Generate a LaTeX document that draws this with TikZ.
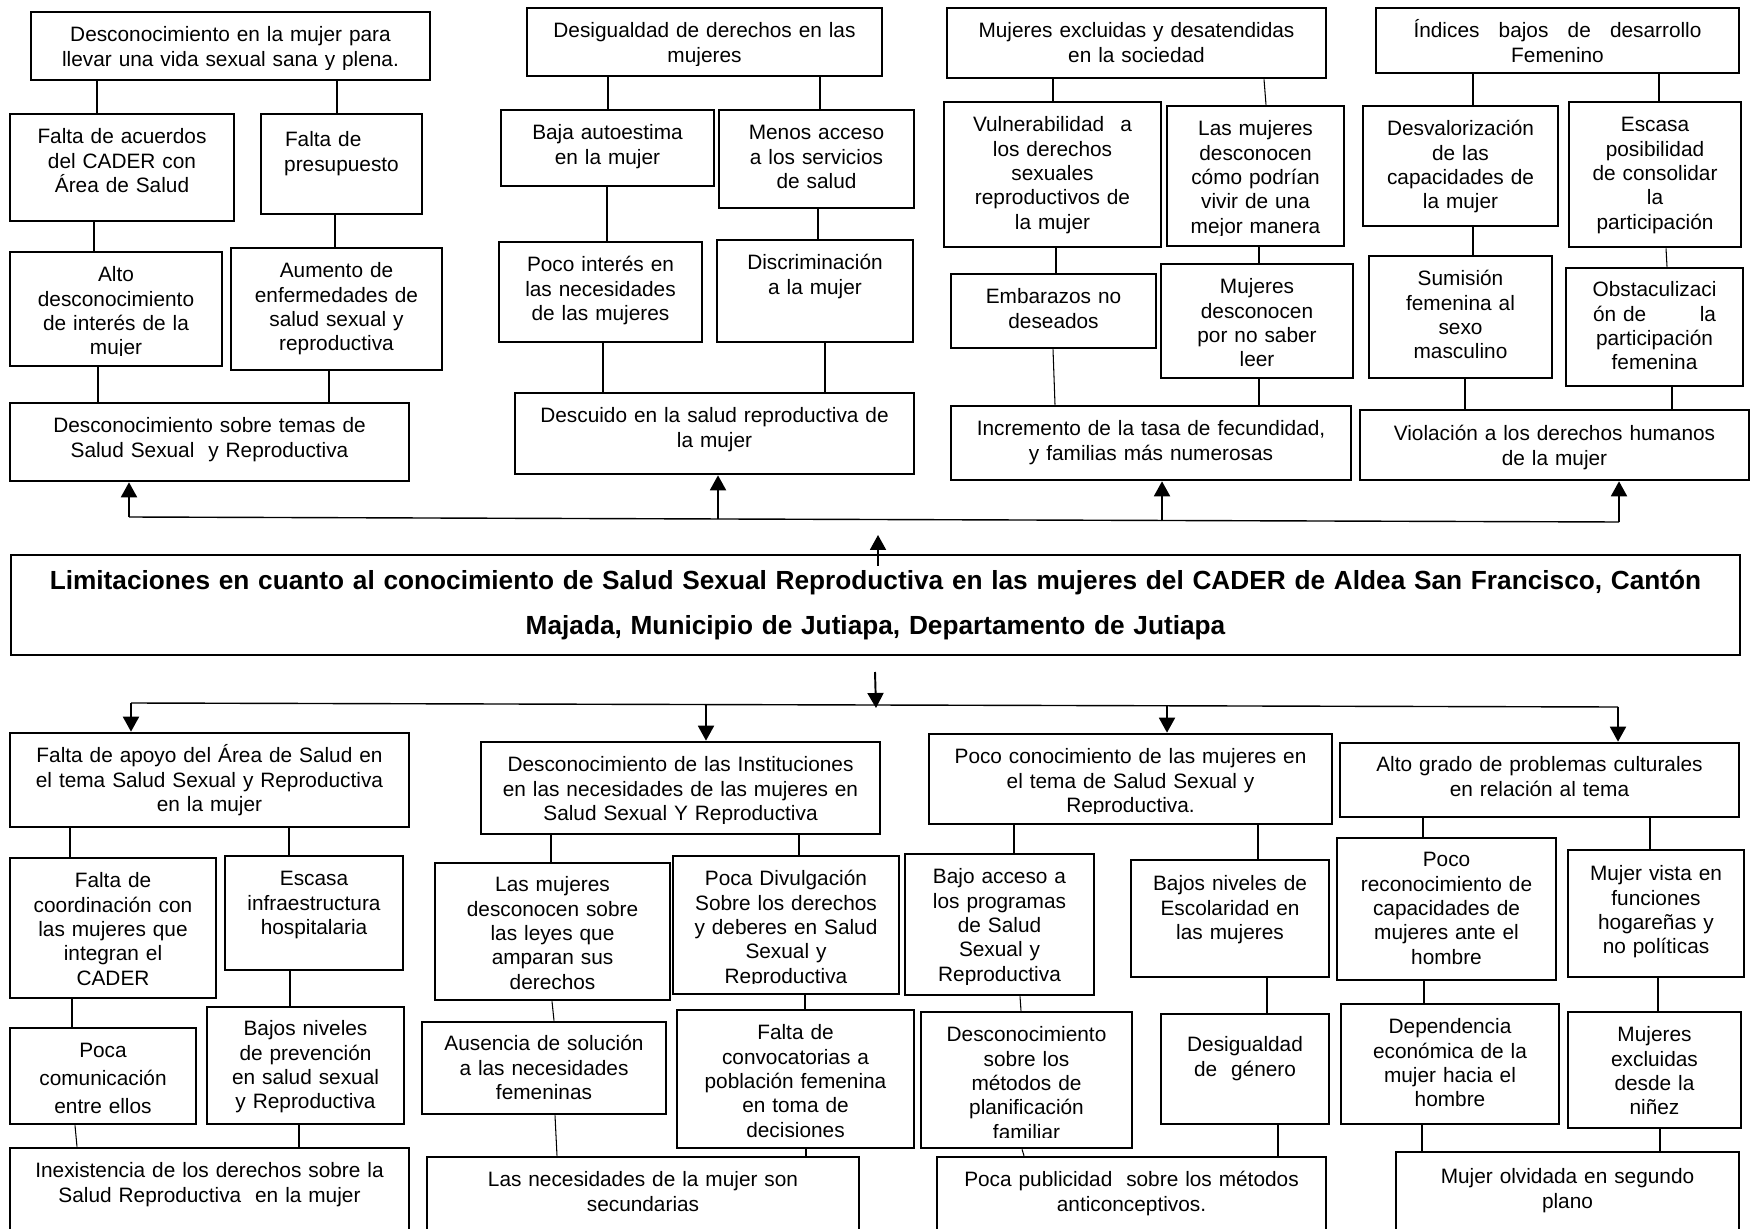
\documentclass[tikz,border=0pt]{standalone}
\usepackage{fontspec}
\setmainfont{Liberation Sans}
\usetikzlibrary{arrows.meta, fit, calc}

% caja con texto: [desplazamiento de la linea base]{nombre}{x1}{y1}{x2}{y2}{texto}
\newcommand{\caja}[7][31]{%
  \node[caja, fit={(#3,#4) (#5,#6)}] (#2) {};
  \pgfmathsetmacro\anchocaja{(#5-#3-8)*0.02}
  \begin{scope}
    \clip ([yshift=0.24cm]#2.south west) rectangle (#2.north east);
    \node[texto, text width=\anchocaja cm, anchor=base] (#2-t)
      at ($(#2.north)+(0,#1)$) {#7};
  \end{scope}}

\begin{document}
\begin{tikzpicture}[x=0.02cm, y=-0.02cm,
    caja/.style={draw, line width=1.5pt, inner sep=0pt},
    texto/.style={font=\fontsize{11.85pt}{13.9pt}\selectfont, align=center, inner sep=0pt},
    titulo/.style={font=\fontsize{14.93pt}{25.6pt}\selectfont\bfseries, align=center, inner sep=0pt},
    linea/.style={line width=0.6pt},
    bus/.style={line width=0.8pt},
    flecha/.style={line width=1.1pt, -{Triangle[length=0.3cm, width=0.32cm]}}]
  \fill[white] (0,0) rectangle (1750,1229);
  \useasboundingbox (0,0) rectangle (1750,1229);

  % efectos
  \caja{e1a}{31}{12}{430}{80}{Desconocimiento en la mujer para\\llevar una vida sexual sana y plena.}
  \caja{e1b}{10}{114}{234}{221}{Falta de acuerdos\\del CADER con\\Área de Salud}
  \caja[34]{e1c}{261}{114}{422}{214}{\makebox[2.26cm][l]{Falta de}\\presupuesto}
  \caja{e1d}{10}{252}{222}{366}{Alto\\desconocimiento\\de interés de la\\mujer}
  \caja{e1e}{231}{248}{442}{370}{Aumento de\\enfermedades de\\salud sexual y\\reproductiva}
  \caja{e1f}{10}{403}{409}{481}{Desconocimiento sobre temas de\\Salud Sexual\ \ y Reproductiva}

  \caja{e2a}{527}{8}{882}{76}{Desigualdad de derechos en las\\mujeres}
  \caja{e2b}{501}{110}{714}{186}{Baja autoestima\\en la mujer}
  \caja{e2c}{719}{110}{914}{208}{Menos acceso\\a los servicios\\de salud}
  \caja{e2d}{499}{242}{702}{342}{Poco interés en\\las necesidades\\de las mujeres}
  \caja{e2e}{717}{240}{913}{342}{Discriminación\\a la mujer}
  \caja{e2f}{515}{393}{914}{474}{Descuido en la salud reproductiva de\\la mujer}

  \caja{e3a}{947}{8}{1326}{78}{Mujeres excluidas y desatendidas\\en la sociedad}
  \caja{e3b}{944}{102}{1161}{247}{\makebox[3.18cm][s]{Vulnerabilidad\hfill a}\\los derechos\\sexuales\\reproductivos de\\la mujer}
  \caja{e3c}{1167}{106}{1344}{246}{Las mujeres\\desconocen\\cómo podrían\\vivir de una\\mejor manera}
  \caja{e3d}{951}{274}{1156}{348}{Embarazos no\\deseados}
  \caja{e3e}{1161}{264}{1353}{378}{Mujeres\\desconocen\\por no saber\\leer}
  \caja{e3f}{951}{406}{1351}{480}{Incremento de la tasa de fecundidad,\\y familias más numerosas}

  \caja{e4a}{1376}{8}{1739}{73}{\makebox[5.76cm][s]{Índices\hfill bajos\hfill de\hfill desarrollo}\\Femenino}
  \caja{e4b}{1363}{106}{1558}{226}{Desvalorización\\de las\\capacidades de\\la mujer}
  \caja{e4c}{1569}{102}{1741}{247}{Escasa\\posibilidad\\de consolidar\\la\\participación}
  \caja{e4d}{1369}{256}{1552}{378}{Sumisión\\femenina al\\sexo\\masculino}
  \caja[30]{e4e}{1566}{268}{1743}{386}{Obstaculizaci\\\makebox[2.46cm][s]{ón de\hfill la}\\participación\\femenina}
  \caja[32]{e4f}{1360}{410}{1749}{480}{Violación a los derechos humanos\\de la mujer}

  % problema central
  \node[caja, fit={(11,555) (1740,655)}] (problema) {};
  \node[titulo, text width=34cm, anchor=base] (problema-t) at ($(problema.north)+(0,36)$)
    {Limitaciones en cuanto al conocimiento de Salud Sexual Reproductiva en las mujeres del CADER de Aldea San Francisco, Cantón\\Majada, Municipio de Jutiapa, Departamento de Jutiapa};

  % causas
  \caja{c1a}{10}{733}{409}{827}{Falta de apoyo del Área de Salud en\\el tema Salud Sexual y Reproductiva\\en la mujer}
  \caja{c1b}{10}{858}{216}{998}{Falta de\\coordinación con\\las mujeres que\\integran el\\CADER}
  \caja{c1c}{225}{856}{403}{970}{Escasa\\infraestructura\\hospitalaria}
  \caja{c1d}{10}{1028}{196}{1124}{Poca\\[2pt]comunicación\\[2pt]entre ellos}
  \caja[30]{c1e}{207}{1007}{404}{1124}{Bajos niveles\\de prevención\\en salud sexual\\y Reproductiva}
  \caja{c1f}{10}{1148}{409}{1240}{Inexistencia de los derechos sobre la\\Salud Reproductiva\ \ en la mujer}

  \caja{c2a}{481}{742}{880}{834}{Desconocimiento de las Instituciones\\en las necesidades de las mujeres en\\Salud Sexual Y Reproductiva}
  \caja[30]{c2b}{435}{863}{670}{1000}{Las mujeres\\desconocen sobre\\las leyes que\\amparan sus\\derechos}
  \caja{c2c}{673}{856}{899}{994}{Poca Divulgación\\Sobre los derechos\\y deberes en Salud\\Sexual y\\Reproductiva}
  \caja[30]{c2d}{422}{1022}{666}{1114}{Ausencia de solución\\a las necesidades\\femeninas}
  \caja{c2e}{677}{1010}{914}{1148}{Falta de\\convocatorias a\\población femenina\\en toma de\\decisiones}
  \caja{c2f}{427}{1157}{859}{1240}{Las necesidades de la mujer son\\secundarias}

  \caja{c3a}{929}{734}{1332}{824}{Poco conocimiento de las mujeres en\\el tema de Salud Sexual y\\Reproductiva.}
  \caja{c3b}{905}{854}{1094}{995}{Bajo acceso a\\los programas\\de Salud\\Sexual y\\Reproductiva}
  \caja[32]{c3c}{1131}{860}{1329}{977}{Bajos niveles de\\Escolaridad en\\las mujeres}
  \caja{c3d}{921}{1012}{1132}{1148}{Desconocimiento\\sobre los\\métodos de\\planificación\\familiar}
  \caja[39]{c3e}{1161}{1014}{1329}{1124}{Desigualdad\\de\ \ género}
  \caja{c3f}{937}{1157}{1326}{1240}{Poca publicidad\ \ sobre los métodos\\anticonceptivos.}

  \caja[30]{c4a}{1340}{743}{1739}{817}{Alto grado de problemas culturales\\en relación al tema}
  \caja[30]{c4b}{1337}{838}{1556}{980}{Poco\\reconocimiento de\\capacidades de\\mujeres ante el\\hombre}
  \caja[32]{c4c}{1568}{850}{1744}{977}{Mujer vista en\\funciones\\hogareñas y\\no políticas}
  \caja{c4d}{1341}{1004}{1559}{1124}{Dependencia\\económica de la\\mujer hacia el\\hombre}
  \caja{c4e}{1568}{1012}{1741}{1128}{Mujeres\\excluidas\\desde la\\niñez}
  \caja[33]{c4f}{1396}{1152}{1739}{1240}{Mujer olvidada en segundo\\plano}

  % conectores entre cajas
  \draw[linea] (e1a.south -| 97,0) -- (e1b.north -| 97,0);
  \draw[linea] (e1a.south -| 337,0) -- (e1c.north -| 337,0);
  \draw[linea] (e1b.south -| 94,0) -- (e1d.north -| 94,0);
  \draw[linea] (e1c.south -| 335,0) -- (e1e.north -| 335,0);
  \draw[linea] (e1d.south -| 98,0) -- (e1f.north -| 98,0);
  \draw[linea] (e1e.south -| 329,0) -- (e1f.north -| 329,0);

  \draw[linea] (e2a.south -| 608,0) -- (e2b.north -| 608,0);
  \draw[linea] (e2a.south -| 820,0) -- (e2c.north -| 820,0);
  \draw[linea] (e2b.south -| 607,0) -- (e2d.north -| 607,0);
  \draw[linea] (e2c.south -| 818,0) -- (e2e.north -| 818,0);
  \draw[linea] (e2d.south -| 603,0) -- (e2f.north -| 603,0);
  \draw[linea] (e2e.south -| 825,0) -- (e2f.north -| 825,0);

  \draw[linea] (e3a.south -| 1053,0) -- (e3b.north -| 1053,0);
  \draw[linea] (e3a.south -| 1264,0) -- (e3c.north -| 1266,0);
  \draw[linea] (e3b.south -| 1056,0) -- (e3d.north -| 1056,0);
  \draw[linea] (e3c.south -| 1259,0) -- (e3e.north -| 1259,0);
  \draw[linea] (e3d.south -| 1053,0) -- (e3f.north -| 1055,0);
  \draw[linea] (e3e.south -| 1259,0) -- (e3f.north -| 1259,0);

  \draw[linea] (e4a.south -| 1473,0) -- (e4b.north -| 1473,0);
  \draw[linea] (e4a.south -| 1659,0) -- (e4c.north -| 1659,0);
  \draw[linea] (e4b.south -| 1473,0) -- (e4d.north -| 1473,0);
  \draw[linea] (e4c.south -| 1666,0) -- (e4e.north -| 1667,0);
  \draw[linea] (e4d.south -| 1465,0) -- (e4f.north -| 1465,0);
  \draw[linea] (e4e.south -| 1672,0) -- (e4f.north -| 1672,0);

  \draw[linea] (c1a.south -| 70,0) -- (c1b.north -| 70,0);
  \draw[linea] (c1a.south -| 289,0) -- (c1c.north -| 289,0);
  \draw[linea] (c1b.south -| 72,0) -- (c1d.north -| 72,0);
  \draw[linea] (c1c.south -| 290,0) -- (c1e.north -| 290,0);
  \draw[linea] (c1d.south -| 75,0) -- (c1f.north -| 77,0);
  \draw[linea] (c1e.south -| 299,0) -- (c1f.north -| 299,0);

  \draw[linea] (c2a.south -| 551,0) -- (c2b.north -| 551,0);
  \draw[linea] (c2a.south -| 799,0) -- (c2c.north -| 799,0);
  \draw[linea] (c2b.south -| 552,0) -- (c2d.north -| 554,0);
  \draw[linea] (c2c.south -| 805,0) -- (c2e.north -| 805,0);
  \draw[linea] (c2d.south -| 555,0) -- (c2f.north -| 557,0);
  \draw[linea] (c2e.south -| 806,0) -- (c2f.north -| 806,0);

  \draw[linea] (c3a.south -| 1014,0) -- (c3b.north -| 1014,0);
  \draw[linea] (c3a.south -| 1258,0) -- (c3c.north -| 1258,0);
  \draw[linea] (c3b.south -| 1020,0) -- (c3d.north -| 1021,0);
  \draw[linea] (c3c.south -| 1267,0) -- (c3e.north -| 1267,0);
  \draw[linea] (c3d.south -| 1022,0) -- (c3f.north -| 1024,0);
  \draw[linea] (c3e.south -| 1278,0) -- (c3f.north -| 1278,0);

  \draw[linea] (c4a.south -| 1423,0) -- (c4b.north -| 1423,0);
  \draw[linea] (c4a.south -| 1650,0) -- (c4c.north -| 1650,0);
  \draw[linea] (c4b.south -| 1424,0) -- (c4d.north -| 1424,0);
  \draw[linea] (c4c.south -| 1658,0) -- (c4e.north -| 1658,0);
  \draw[linea] (c4d.south -| 1422,0) -- (c4f.north -| 1422,0);
  \draw[linea] (c4e.south -| 1660,0) -- (c4f.north -| 1660,0);

  % flechas hacia los efectos
  \coordinate (bs1) at (129,517);
  \coordinate (bs2) at (718,519);
  \coordinate (bs3) at (1162,521);
  \coordinate (bs4) at (1619,522);
  \coordinate (ps) at (878,535);
  \draw[bus] (bs1) -- (bs4);
  \foreach \n/\b in {e1f/bs1, e2f/bs2, e3f/bs3, e4f/bs4}
    \draw[flecha] (\b) -- (\n.south -| \b);
  \draw[flecha] ([yshift=-0.24cm]problema.north -| ps) -- (ps);

  % flechas hacia las causas
  \coordinate (pb1) at (875,672);
  \coordinate (pb2) at (876,708);
  \coordinate (bi1) at (131,703);
  \coordinate (bi2) at (706,705);
  \coordinate (bi3) at (1167,706);
  \coordinate (bi4) at (1618,707);
  \draw[flecha] (pb1) -- (pb2);
  \draw[bus] (bi1) -- (bi4);
  \foreach \n/\b in {c1a/bi1, c2a/bi2, c3a/bi3, c4a/bi4}
    \draw[flecha] (\b) -- (\n.north -| \b);
\end{tikzpicture}
\end{document}
